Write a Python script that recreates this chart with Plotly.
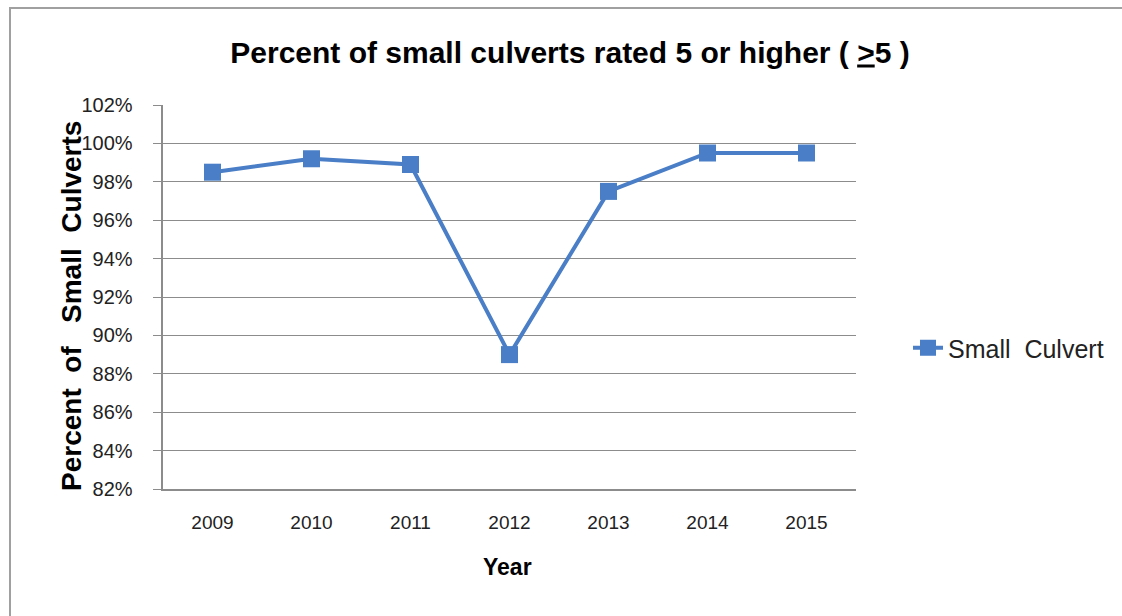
import plotly.graph_objects as go

years = ["2009", "2010", "2011", "2012", "2013", "2014", "2015"]
percent = [98.5, 99.2, 98.9, 89.0, 97.5, 99.5, 99.5]
series_name = "Small\u00a0\u00a0Culvert"
y_ticks = [82, 84, 86, 88, 90, 92, 94, 96, 98, 100, 102]
y_tick_labels = [f"{v}%\u00a0\u00a0\u00a0" for v in y_ticks]

W, H = 1122, 616
L, R, T, B = 163, 266, 105, 127
pw, ph = W - L - R, H - T - B

def px_to_paper_x(px):
    return (px - L) / pw

def px_to_paper_y(py):
    return (H - B - py) / ph

blue = "#4A7EC6"
grid = "#8C8C8C"
font = "Liberation Sans, Arial, sans-serif"

fig = go.Figure()
fig.add_trace(go.Scatter(
    x=years, y=percent, mode="lines+markers", name=series_name,
    line=dict(color=blue, width=4),
    marker=dict(symbol="square", size=17, color=blue),
))

fig.update_layout(
    width=W, height=H,
    margin=dict(l=L, r=R, t=T, b=B, autoexpand=False),
    paper_bgcolor="white", plot_bgcolor="white",
    title=dict(
        text="<b>Percent of small culverts rated 5 or higher ( <u>></u>5 )</b>",
        x=570 / W, xanchor="center", y=1 - 52 / H, yanchor="middle",
        font=dict(family=font, size=30, color="black"),
    ),
    xaxis=dict(
        type="category", range=[-0.5, 6.5],
        showgrid=False, showline=True, linecolor=grid, linewidth=1.5,
        ticks="", ticklabelstandoff=15,
        tickfont=dict(family=font, size=19, color="#222"),
    ),
    yaxis=dict(
        range=[82, 102], tickvals=y_ticks, ticktext=y_tick_labels,
        showgrid=True, gridcolor=grid, gridwidth=1,
        showline=True, linecolor=grid, linewidth=1.5,
        ticks="outside", ticklen=8, tickcolor=grid,
        tickfont=dict(family=font, size=20, color="#222"),
        zeroline=False,
    ),
    legend=dict(
        x=px_to_paper_x(908), y=px_to_paper_y(348), xanchor="left", yanchor="middle",
        font=dict(family=font, size=25, color="#222"),
        bgcolor="rgba(0,0,0,0)",
    ),
    showlegend=True,
)

fig.add_annotation(
    text="<b>Percent\u00a0\u00a0of\u00a0\u00a0\u00a0Small\u00a0\u00a0Culverts</b>",
    xref="paper", yref="paper", x=px_to_paper_x(71), y=px_to_paper_y(306),
    xanchor="center", yanchor="middle", textangle=-90, showarrow=False,
    font=dict(family=font, size=28, color="black"),
)
fig.add_annotation(
    text="<b>Year</b>",
    xref="paper", yref="paper", x=px_to_paper_x(507), y=px_to_paper_y(567),
    xanchor="center", yanchor="middle", showarrow=False,
    font=dict(family=font, size=23, color="black"),
)

fig.add_shape(
    type="rect", xref="paper", yref="paper",
    x0=px_to_paper_x(10), x1=px_to_paper_x(1130),
    y0=px_to_paper_y(630), y1=px_to_paper_y(8),
    line=dict(color="#A0A0A0", width=2), fillcolor="rgba(0,0,0,0)", layer="below",
)

fig.write_html("out.html")
